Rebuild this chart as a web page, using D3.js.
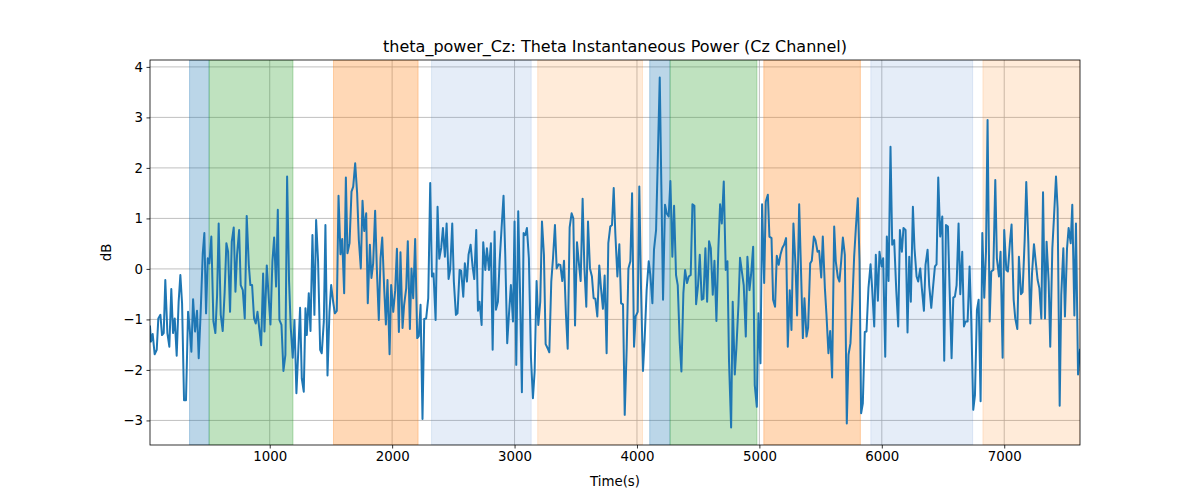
<!DOCTYPE html>
<html><head><meta charset="utf-8">
<script src="https://cdn.jsdelivr.net/npm/d3@7"></script>
<style>body{margin:0;background:#fff}svg{display:block}text{font-family:"DejaVu Sans",sans-serif;fill:#000}</style>
</head><body><svg id="c" width="1200" height="500"></svg>
<script>
const title = "theta_power_Cz: Theta Instantaneous Power (Cz Channel)";
const xLabel = "Time(s)";
const yLabel = "dB";
const xTicks = [1000,2000,3000,4000,5000,6000,7000];
const yTicks = [-3,-2,-1,0,1,2,3,4];

const spanStart = [345, 505, 1521, 2322, 3189, 4104, 4270, 5036, 5910, 6826];
const spanEnd   = [505, 1190, 2212, 3136, 4045, 4270, 4980, 5825, 6742, 7619];
const spanKind  = ["blue","green","orange","lightblue","lightorange","blue","green","orange","lightblue","lightorange"];

const times = [
22,30,44,60,77,90,107,120,134,147,164,180,196,210,224,240,256,270,284,300,
316,333,346,360,374,390,406,420,436,453,466,480,494,507,523,540,556,570,583,600,
616,632,646,660,676,690,706,720,733,750,763,780,796,812,829,842,856,872,886,900,
916,930,946,
957,976,992,1006,1022,1036,1052,1066,1079,1096,1112,1128,1142,1158,1172,1188,1202,1218,1232,1248,
1262,1278,1292,1303,1319,1333,1349,1365,1379,1395,1412,1425,1442,1455,1472,1488,1502,1518,1532,1548,
1562,1578,1592,1608,1622,1635,1652,1668,1682,1698,1714,1728,1744,1758,1772,1788,1801,1818,1831,1845,
1861,1875,1891,
1905,1919,1935,1949,1962,1979,1992,2009,2025,2039,2055,2068,2085,2098,2115,2128,2145,2158,2172,2188,
2205,2218,2232,2248,2262,2278,2295,2311,2325,2338,2355,2371,2385,2401,2415,2431,2445,2461,2474,2491,
2504,2521,2534,2551,2564,2581,2594,2611,2624,2641,2657,2671,2687,2701,2714,2731,2744,2761,2774,2791,
2807,2821,
2837,2848,2864,2878,2894,2910,2924,2940,2954,2970,2987,3000,3014,3030,3044,3060,3074,3088,3101,3117,
3134,3150,3164,3180,3194,3210,3224,3240,3254,3270,3284,3300,3314,3330,3344,3360,3374,3390,3404,3420,
3434,3450,3466,3480,3494,3510,3524,3540,3556,3570,3586,3600,3616,3632,3646,3660,3676,3692,3706,3722,
3736,3752,3766,
3782,3796,3810,3823,3840,3856,3870,3886,3900,3916,3930,3946,3960,3976,3989,4006,4019,4033,4049,4063,
4079,4096,4109,4126,4139,4156,4169,4186,4199,4213,4229,4243,4259,4273,4289,4303,4319,4333,4349,4363,
4379,4393,4409,4423,4439,4453,4469,4483,4499,4513,4529,4543,4559,4573,4589,4603,4619,4633,4649,4665,
4679,4693,
4709,4725,4739,4752,4769,4782,4799,4812,4829,4842,4859,4872,4889,4902,4919,4932,4949,4962,4979,4992,
5009,5022,5039,5052,5069,5082,5099,5112,5128,5142,5158,5172,5188,5202,5218,5232,5248,5262,5278,5295,
5308,5325,5338,5355,5368,5385,5398,5415,5428,5445,5458,5475,5488,5505,5518,5535,5548,5564,5578,5594,
5611,5624,5641,5654,
5668,5682,5698,5714,5728,5744,5761,5774,5788,5804,5818,5831,5845,5861,5875,5891,5908,5921,5938,5951,
5968,5981,5998,6011,6028,6041,6055,6071,6085,6101,6118,6134,6148,6164,6177,6194,6210,6224,6237,6254,
6267,6284,6297,6314,6327,6344,6357,6374,6387,6404,6420,6434,6447,6461,6477,6494,6510,6524,6540,6554,
6570,6584,
6597,6611,6627,6641,6657,6671,6684,6701,6717,6731,6747,6761,6777,6791,6807,6821,6837,6851,6864,6881,
6894,6911,6927,6940,6957,6970,6987,7000,7017,7030,7047,7060,7077,7090,7107,7120,7137,7150,7167,7180,
7197,7213,7227,7243,7257,7273,7287,7303,7317,7333,7346,7363,7376,7393,7406,7423,7436,7453,7466,7483,
7496,7513,7526,7543,7556,7573,7586,7603,7619
];

const power = [
-1.14,-1.44,-1.29,-1.69,-1.60,-0.98,-0.91,-1.31,-1.27,-0.22,-1.27,-1.54,-0.40,-1.27,-0.98,-1.72,-0.65,-0.12,-0.68,-2.60,
-2.60,-0.85,-1.18,-1.64,-0.60,-1.24,-0.83,-1.77,-0.85,0.31,0.71,-0.88,0.21,0.11,0.64,-1.04,-1.27,-0.52,0.90,-0.91,
-1.23,-0.45,0.51,0.34,-0.85,0.54,0.82,-0.45,0.28,0.77,-0.32,-0.42,-0.98,1.05,0.08,-0.32,-0.32,-0.98,-1.08,-0.85,
-1.21,-1.51,-0.09,
-1.24,0.07,-0.58,-1.10,0.15,0.62,-0.35,1.17,-1.01,-1.11,-2.02,-1.70,1.83,-0.25,-1.17,-1.76,-1.01,-2.46,-1.70,-0.77,
-2.17,-2.43,-0.78,-1.31,-0.48,-1.23,0.67,-0.91,0.97,0.15,-1.60,-1.67,-1.04,0.87,-2.11,-0.85,-0.32,-0.65,-0.88,-0.83,
1.45,0.29,0.59,-0.48,1.81,0.31,0.51,1.53,1.63,2.09,1.50,0.57,0.01,1.35,0.75,1.10,-0.68,0.48,-0.18,0.11,
1.15,0.01,-1.01,
0.21,0.62,-0.38,-1.10,-0.22,-1.69,-0.32,-0.85,-0.42,0.40,-1.25,0.33,-1.17,-0.71,-0.38,0.55,-1.19,0.01,-0.58,0.59,
-1.37,-1.33,-0.71,-2.97,-0.99,-0.98,-0.58,1.70,-0.15,-0.09,-1.01,1.23,0.20,0.42,0.81,0.24,0.90,-0.20,-0.02,0.90,
-0.25,-0.91,-0.88,-0.02,-0.04,-0.55,0.11,-0.25,0.28,0.48,0.05,-0.20,0.77,-0.83,-0.65,-1.11,0.53,-0.02,0.41,-0.02,
0.51,-1.60,
0.74,-0.81,-0.65,0.15,0.81,1.45,0.28,-1.47,-0.91,-0.32,-1.04,0.94,-1.90,1.14,-0.38,-2.44,0.71,0.67,0.81,0.21,
-1.76,-2.56,-2.03,-0.24,-1.11,-0.65,0.94,0.28,-1.49,-1.57,-1.65,-0.25,0.21,0.87,0.01,0.09,0.08,-0.24,0.16,-0.91,
-1.58,0.82,1.10,1.00,-1.12,0.53,0.15,-0.24,1.39,0.05,-0.75,0.94,0.01,-0.15,-0.58,-0.59,-0.94,0.07,-0.38,-0.79,
-0.13,-1.67,0.51,
0.84,0.87,1.60,0.71,-0.15,0.49,-0.68,-0.70,-2.89,-1.57,0.01,0.15,1.50,-1.54,-0.94,-0.85,1.63,-0.38,-2.02,-1.37,
-0.42,0.15,-0.12,-0.68,0.38,0.77,2.06,3.79,1.66,-0.61,1.27,1.10,1.04,1.74,0.24,1.25,-0.12,-0.32,-1.44,-2.03,
-0.48,-0.02,-0.28,-0.15,-0.12,1.28,1.25,-0.70,-0.32,0.28,-0.61,-0.59,0.41,-0.65,0.55,0.41,-0.51,0.16,-1.03,0.41,
1.28,0.90,
1.73,-0.02,0.15,-1.84,-3.14,-0.65,-2.09,-1.57,-0.71,0.22,-0.09,-0.32,-1.34,0.24,-0.42,-0.12,0.44,-2.30,-2.73,-0.88,
-1.87,1.28,-0.28,1.33,1.47,0.64,0.61,-0.61,-0.75,0.26,0.08,0.28,0.42,0.48,0.61,-1.54,-0.42,-1.21,0.90,0.07,
-0.92,1.28,0.15,-1.37,-0.58,-1.34,-1.16,0.11,0.16,0.64,0.57,0.34,0.36,-0.17,0.64,-0.38,-0.91,-1.67,-1.23,-2.15,
0.84,0.15,-0.17,-0.25,
0.15,0.62,0.28,-3.06,-1.70,-1.47,-0.58,0.24,0.81,1.40,0.15,-2.86,-2.66,-1.25,-1.24,-0.38,0.09,-0.38,-1.14,0.28,
-0.63,0.34,0.05,0.21,-1.74,0.64,-0.24,2.42,0.48,0.57,-0.42,-1.14,0.77,0.34,0.81,0.77,-1.26,0.24,-0.65,1.23,
0.41,-0.15,-0.25,0.01,-0.38,-0.83,0.08,0.38,-0.32,-0.77,-0.32,0.05,0.09,1.81,0.64,1.04,-1.82,0.87,0.84,-0.42,
-1.77,-0.57,
-0.55,-0.32,0.90,-0.50,0.34,-1.14,-1.04,-1.04,0.05,-1.04,-2.79,-2.50,-0.81,-0.61,-2.62,0.71,-0.57,0.34,2.95,-1.04,
-0.05,-0.02,1.76,0.21,-0.15,0.34,-1.76,0.77,-0.02,-0.05,0.54,0.88,-0.61,-0.98,-1.19,0.24,-0.50,-0.46,0.57,1.72,
0.51,-1.08,-0.09,0.49,0.15,-0.22,-0.38,-0.98,1.52,-0.98,0.54,-0.25,-1.54,0.41,1.00,1.83,1.20,-2.71,-0.51,0.41,
-0.94,0.41,0.81,0.51,1.27,-0.92,0.90,-2.09,-1.60
];

const spanColors = {
  blue:        {fill:"#1f77b4", op:0.3},
  green:       {fill:"#2ca02c", op:0.3},
  orange:      {fill:"#ff7f0e", op:0.3},
  lightblue:   {fill:"#4a7fd0", op:0.14},
  lightorange: {fill:"#ff8a1e", op:0.17}
};

const W = 1200, H = 500;
const m = {left:150, right:120, top:60, bottom:55};
const iw = W - m.left - m.right, ih = H - m.top - m.bottom;
const svg = d3.select("#c");
const g = svg.append("g").attr("transform", `translate(${m.left},${m.top})`);

const data = times.map((t,i)=>({t, v:power[i]}));
const x = d3.scaleLinear().domain(d3.extent(times)).range([0, iw]);
const yext = d3.extent(power);
const pad = (yext[1]-yext[0])*0.05;
const y = d3.scaleLinear().domain([yext[0]-pad, yext[1]+pad]).range([ih, 0]);

g.append("defs").append("clipPath").attr("id","clip")
  .append("rect").attr("width", iw).attr("height", ih);

// grid
g.append("g").selectAll("line").data(xTicks).join("line")
  .attr("x1", d=>x(d)).attr("x2", d=>x(d)).attr("y1",0).attr("y2",ih)
  .attr("stroke","#b0b0b0").attr("stroke-width",0.8);
g.append("g").selectAll("line").data(yTicks).join("line")
  .attr("y1", d=>y(d)).attr("y2", d=>y(d)).attr("x1",0).attr("x2",iw)
  .attr("stroke","#b0b0b0").attr("stroke-width",0.8);

// spans
const spans = spanStart.map((s,i)=>({s, e:spanEnd[i], k:spanKind[i]}));
g.append("g").attr("clip-path","url(#clip)").selectAll("rect").data(spans).join("rect")
  .attr("x", d=>x(d.s)).attr("width", d=>x(d.e)-x(d.s))
  .attr("y", 0).attr("height", ih)
  .attr("fill", d=>spanColors[d.k].fill).attr("fill-opacity", d=>spanColors[d.k].op)
  .attr("stroke", d=>spanColors[d.k].fill).attr("stroke-opacity", d=>spanColors[d.k].op)
  .attr("stroke-width", 1);

// line
const line = d3.line().x(d=>x(d.t)).y(d=>y(d.v));
g.append("path").datum(data).attr("clip-path","url(#clip)")
  .attr("d", line).attr("fill","none").attr("stroke","#1f77b4")
  .attr("stroke-width",2).attr("stroke-linejoin","round").attr("stroke-linecap","square");

// axes
const fmt = d => d < 0 ? "\u2212" + Math.abs(d) : String(d);
const xa = g.append("g").attr("transform",`translate(0,${ih})`)
  .call(d3.axisBottom(x).tickValues(xTicks).tickFormat(fmt).tickSize(3.5).tickPadding(3.5));
const ya = g.append("g")
  .call(d3.axisLeft(y).tickValues(yTicks).tickFormat(fmt).tickSize(3.5).tickPadding(3.5));
[xa, ya].forEach(a=>{
  a.select(".domain").remove();
  a.selectAll(".tick line").attr("stroke","#000").attr("stroke-width",0.8);
  a.selectAll(".tick text").attr("font-size","13.33px").attr("font-family","DejaVu Sans").attr("fill","#000");
});

// frame
g.append("rect").attr("width", iw).attr("height", ih).attr("fill","none")
  .attr("stroke","#000").attr("stroke-width",0.8);

// labels
svg.append("text").attr("x", m.left + iw/2).attr("y", 52).attr("text-anchor","middle")
  .attr("font-size","16px").text(title);
svg.append("text").attr("x", m.left + iw/2).attr("y", 486).attr("text-anchor","middle")
  .attr("font-size","13.33px").text(xLabel);
svg.append("text").attr("transform",`translate(111,${m.top + ih/2}) rotate(-90)`)
  .attr("text-anchor","middle").attr("font-size","13.33px").text(yLabel);
</script>
</body></html>
